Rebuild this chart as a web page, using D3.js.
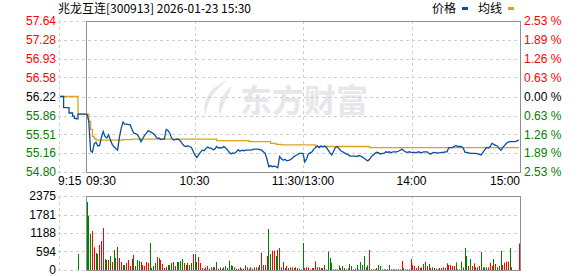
<!DOCTYPE html>
<html>
<head>
<meta charset="utf-8">
<script src="https://cdn.jsdelivr.net/npm/d3@7"></script>
<style>
body { margin: 0; background: #fff; }
svg { display: block; }
text { font-family: "Liberation Sans", Arial, sans-serif; font-size: 12px; }
</style>
</head>
<body>
<svg></svg>
<script>
var title = "兆龙互连[300913] 2026-01-23 15:30";
var preClose = 56.22;

var priceTicks = [57.64, 57.28, 56.93, 56.58, 56.22, 55.86, 55.51, 55.16, 54.80];
var pctTicks = ["2.53%", "1.89%", "1.26%", "0.63%", "0.00%", "0.63%", "1.26%", "1.89%", "2.53%"];
var volTicks = [2375, 1781, 1188, 594, 0];
var timeLabels = ["9:15", "09:30", "10:30", "11:30/13:00", "14:00", "15:00"];
var timeMinutes = [-15, 0, 60, 120, 180, 240];
var gridMinutes = [-15, 60, 120, 180];

// call auction 9:15 - 9:25, then flat to 9:30
var preMinutes = [-15, -14, -13, -12, -11, -10, -9, -8, -7, -6, -5, 0];
var prePrices = [56.22, 56.22, 56.01, 56.01, 56.01, 55.91, 55.91, 55.85, 55.81, 55.80, 55.89, 55.89];
var preAvgMinutes = [-15, -5, 0];
var preAvg = [56.22, 55.89, 55.89];
var preVolMinute = -5;
var preVolume = 513;

// one value per minute, 09:30 .. 11:30 (0-120), 13:01 .. 15:00 (121-240)
var prices = [
  55.89, 55.75, 55.20, 55.17, 55.33, 55.36, 55.29, 55.30, 55.45, 55.56,
  55.47, 55.44, 55.50, 55.40, 55.32, 55.27, 55.24, 55.21, 55.45, 55.62,
  55.74, 55.70, 55.70, 55.69, 55.69, 55.60, 55.53, 55.52, 55.50, 55.45,
  55.37, 55.43, 55.49, 55.53, 55.58, 55.56, 55.54, 55.52, 55.48, 55.43,
  55.44, 55.41, 55.42, 55.42, 55.60, 55.58, 55.53, 55.44, 55.40, 55.41,
  55.42, 55.41, 55.38, 55.33, 55.29, 55.28, 55.29, 55.28, 55.26, 55.19,
  55.12, 55.07, 55.12, 55.17, 55.21, 55.20, 55.24, 55.27, 55.25, 55.25,
  55.22, 55.23, 55.28, 55.25, 55.26, 55.25, 55.28, 55.25, 55.22, 55.17,
  55.14, 55.16, 55.15, 55.18, 55.22, 55.19, 55.21, 55.20, 55.21, 55.21,
  55.21, 55.21, 55.22, 55.23, 55.23, 55.23, 55.22, 55.21, 55.18, 55.15,
  55.04, 54.90, 54.92, 54.90, 54.91, 54.90, 54.88, 55.09, 55.05, 55.02,
  55.04, 55.01, 55.02, 55.03, 55.06, 55.09, 55.11, 55.13, 55.15, 55.15,
  55.15,
  54.99, 55.05, 55.14, 55.16, 55.18, 55.23, 55.26, 55.29, 55.26,
  55.29, 55.27, 55.29, 55.26, 55.21, 55.16, 55.12, 55.19, 55.26, 55.28,
  55.24, 55.20, 55.18, 55.16, 55.14, 55.13, 55.10, 55.10, 55.10, 55.10,
  55.09, 55.11, 55.10, 55.08, 55.06, 55.03, 55.01, 55.04, 55.09, 55.12,
  55.15, 55.17, 55.16, 55.14, 55.15, 55.15, 55.18, 55.17, 55.18, 55.16,
  55.18, 55.18, 55.18, 55.19, 55.21, 55.23, 55.20, 55.18, 55.17, 55.18,
  55.17, 55.17, 55.17, 55.16, 55.18, 55.17, 55.16, 55.18, 55.18, 55.18,
  55.15, 55.14, 55.16, 55.17, 55.16, 55.16, 55.16, 55.17, 55.17, 55.18,
  55.18, 55.26, 55.26, 55.26, 55.28, 55.30, 55.28, 55.28, 55.28, 55.25,
  55.17, 55.17, 55.16, 55.15, 55.15, 55.15, 55.15, 55.14, 55.13, 55.12,
  55.17, 55.22, 55.26, 55.25, 55.28, 55.34, 55.32, 55.30, 55.29, 55.24,
  55.21, 55.26, 55.30, 55.34, 55.36, 55.37, 55.37, 55.37, 55.37, 55.39, 55.40
];

// average price line: minute where it changes, and the new value
var avgMinutes = [0, 1, 2, 3, 4, 5, 20, 25, 72, 90, 102, 105, 108, 127, 157, 240];
var avgPrices = [55.89, 55.75, 55.60, 55.47, 55.43, 55.40, 55.41, 55.42, 55.39, 55.37, 55.34, 55.32, 55.31, 55.28, 55.26, 55.26];

var volumes = [
  2183, 1733, 1156, 1252, 728, 546, 513, 802, 931, 1348,
  353, 321, 321, 449, 257, 642, 385, 738, 385, 257,
  160, 160, 225, 321, 128, 353, 481, 128, 321, 289,
  257, 160, 128, 257, 225, 867, 64, 128, 225, 417,
  385, 321, 193, 64, 96, 160, 160, 225, 257, 128,
  257, 257, 289, 353, 225, 160, 225, 160, 225, 513,
  513, 257, 417, 225, 64, 32, 86, 128, 43, 86,
  96, 86, 256, 43, 86, 43, 86, 128, 64, 300,
  150, 128, 86, 43, 43, 86, 43, 43, 150, 86,
  43, 86, 43, 86, 86, 86, 160, 556, 160, 160,
  449, 1316, 513, 620, 620, 449, 642, 706, 86, 256,
  64, 128, 64, 86, 86, 64, 86, 64, 43, 21,
  866, 64, 86, 86, 21, 64, 64, 278, 86, 86,
  64, 64, 160, 21, 588, 385, 235, 21, 21, 21,
  150, 64, 128, 64, 21, 53, 193, 128, 21, 43,
  160, 21, 256, 160, 449, 86, 150, 642, 21, 21,
  21, 64, 160, 128, 21, 21, 21, 21, 160, 21,
  21, 21, 21, 21, 21, 288, 64, 21, 21, 21,
  352, 160, 128, 64, 128, 64, 86, 193, 267, 128,
  193, 64, 86, 64, 43, 21, 64, 64, 86, 64,
  214, 160, 160, 128, 128, 245, 21, 21, 267, 86,
  706, 449, 128, 352, 128, 214, 86, 86, 128, 577,
  86, 86, 86, 86, 235, 128, 352, 193, 86, 128,
  620, 160, 235, 267, 267, 706, 86, 0, 0, 0, 850
];

// 1 = price up in that minute (red), 0 = down (green)
var volUp = [
  0,0,0,1,1,0,0,1,1,1,  0,0,1,0,1,0,0,1,1,1,  0,0,1,1,1,0,1,0,0,0,
  1,1,1,1,1,0,0,0,0,1,  0,1,1,1,1,0,0,0,1,1,  0,0,0,0,1,1,0,1,0,1,
  0,0,1,1,1,0,1,1,1,0,  1,1,0,0,1,0,0,0,0,0,  0,0,1,0,1,1,0,1,0,1,
  1,1,1,0,1,0,0,1,1,0,  1,0,0,1,1,0,0,1,1,0,  0,1,0,1,0,1,1,0,0,1,
  0,1,1,1,0,1,1,1,1,0,  1,1,0,0,0,0,0,1,1,1,  0,1,0,0,0,1,0,0,1,0,
  0,1,0,0,0,1,0,1,1,1,  0,1,0,0,1,1,1,1,0,1,  1,1,1,1,1,1,0,0,0,0,
  1,1,1,1,1,0,1,0,1,1,  0,1,0,1,1,0,1,1,1,1,  1,1,1,1,1,0,0,1,0,1,
  0,0,1,0,1,1,0,1,1,0,  1,0,0,1,1,1,0,1,0,1,  0,1,1,1,1,0,0,1,1,1,1
];

var width = 578, height = 276;
var left = 86, right = 520;
var priceTop = 21, priceBottom = 172;
var volTop = 196, volBottom = 270;
var gridLeft = 58;

var blue = "#0b4fa0", gold = "#dda21c";
var red = "#ff0000", green = "#008000";
var gridColor = "#cfcfcf", borderColor = "#8f8f8f";

var svg = d3.select("svg")
    .attr("width", width)
    .attr("height", height);

svg.append("rect")
    .attr("width", width)
    .attr("height", height)
    .attr("fill", "white");

var xGrid = d3.scaleLinear().domain([0, 240]).range([left, right]);
var xData = d3.scaleLinear().domain([0, 240]).range([left + 1, right - 1]);
var yPrice = d3.scaleLinear().domain([54.80, 57.64]).range([priceBottom, priceTop]);
var yVol = d3.scaleLinear().domain([0, 2375]).range([volBottom, volTop]);

// watermark
var wm = svg.append("g").attr("fill", "#e7e7eb");
wm.append("path")
    .attr("d", "M228,80 C212,86 200,100 206,116 C206,103 214,90 228,80 Z M232,86 C222,94 216,104 220,116 C222,106 228,96 232,86 Z");
wm.append("text")
    .attr("x", 240)
    .attr("y", 112)
    .style("font-family", "'Noto Sans CJK SC'")
    .style("font-size", "32px")
    .style("font-weight", "bold")
    .text("东方财富");

function crisp(v) { return Math.round(v) + 0.5; }

// price grid
svg.append("g")
    .selectAll("line")
    .data(priceTicks)
    .join("line")
    .attr("x1", gridLeft)
    .attr("x2", right)
    .attr("y1", function(d) { return crisp(yPrice(d)); })
    .attr("y2", function(d) { return crisp(yPrice(d)); })
    .attr("stroke", gridColor)
    .attr("stroke-dasharray", "3,3");

svg.append("g")
    .selectAll("line")
    .data(gridMinutes)
    .join("line")
    .attr("x1", function(d) { return crisp(xGrid(d)); })
    .attr("x2", function(d) { return crisp(xGrid(d)); })
    .attr("y1", priceTop)
    .attr("y2", priceBottom)
    .attr("stroke", gridColor)
    .attr("stroke-dasharray", "3,3");

// volume grid
svg.append("g")
    .selectAll("line")
    .data(volTicks)
    .join("line")
    .attr("x1", gridLeft)
    .attr("x2", right)
    .attr("y1", function(d) { return crisp(yVol(d)); })
    .attr("y2", function(d) { return crisp(yVol(d)); })
    .attr("stroke", gridColor)
    .attr("stroke-dasharray", "3,3");

svg.append("g")
    .selectAll("line")
    .data(gridMinutes)
    .join("line")
    .attr("x1", function(d) { return crisp(xGrid(d)); })
    .attr("x2", function(d) { return crisp(xGrid(d)); })
    .attr("y1", volTop)
    .attr("y2", volBottom)
    .attr("stroke", gridColor)
    .attr("stroke-dasharray", "3,3");

// frames
svg.append("rect")
    .attr("x", left + 0.5).attr("y", priceTop + 0.5)
    .attr("width", right - left).attr("height", priceBottom - priceTop)
    .attr("fill", "none").attr("stroke", borderColor);

svg.append("rect")
    .attr("x", left + 0.5).attr("y", volTop + 0.5)
    .attr("width", right - left).attr("height", volBottom - volTop)
    .attr("fill", "none").attr("stroke", borderColor);

// lines
var priceLine = d3.line()
    .x(function(d, i) { return xData(i); })
    .y(function(d) { return yPrice(d); });

var preLine = d3.line()
    .x(function(d) { return xData(d[0]); })
    .y(function(d) { return yPrice(d[1]); })
    .curve(d3.curveStepAfter);

var avgLine = d3.line()
    .x(function(d) { return xData(d[0]); })
    .y(function(d) { return yPrice(d[1]); })
    .curve(d3.curveStepAfter);

svg.append("path")
    .attr("d", preLine(d3.zip(preAvgMinutes, preAvg)))
    .attr("fill", "none").attr("stroke", gold).attr("stroke-width", 1.3);

svg.append("path")
    .attr("d", avgLine(d3.zip(avgMinutes, avgPrices)))
    .attr("fill", "none").attr("stroke", gold).attr("stroke-width", 1.3);

svg.append("path")
    .attr("d", preLine(d3.zip(preMinutes, prePrices)))
    .attr("fill", "none").attr("stroke", blue).attr("stroke-width", 1.3);

svg.append("path")
    .attr("d", priceLine(prices))
    .attr("fill", "none").attr("stroke", blue).attr("stroke-width", 1.3);

// volume bars
svg.append("g")
    .selectAll("rect")
    .data(volumes)
    .join("rect")
    .attr("x", function(d, i) { return Math.floor(xData(i)); })
    .attr("width", 1)
    .attr("y", function(d) { return yVol(d); })
    .attr("height", function(d) { return volBottom - yVol(d); })
    .attr("fill", function(d, i) { return volUp[i] ? red : green; });

svg.append("rect")
    .attr("x", Math.floor(xData(preVolMinute)))
    .attr("width", 1)
    .attr("y", yVol(preVolume))
    .attr("height", volBottom - yVol(preVolume))
    .attr("fill", green);

// axes (labels only)
function tickColor(d) {
    if (Math.abs(d - preClose) < 0.001) return "#000";
    return d > preClose ? red : green;
}

var leftAxis = svg.append("g")
    .attr("transform", "translate(56,0)")
    .call(d3.axisLeft(yPrice).tickValues(priceTicks).tickSize(0).tickPadding(0)
        .tickFormat(d3.format(".2f")));
leftAxis.select(".domain").remove();
leftAxis.selectAll("text")
    .style("font-size", "12px")
    .style("font-family", "'Liberation Sans', Arial, sans-serif")
    .attr("fill", tickColor);

var rightAxis = svg.append("g")
    .attr("transform", "translate(524,0)")
    .call(d3.axisRight(yPrice).tickValues(priceTicks).tickSize(0).tickPadding(0)
        .tickFormat(function(d, i) { return pctTicks[i].replace("%", " %"); }));
rightAxis.select(".domain").remove();
rightAxis.selectAll("text")
    .style("font-size", "12px")
    .style("font-family", "'Liberation Sans', Arial, sans-serif")
    .attr("fill", tickColor);

var volAxis = svg.append("g")
    .attr("transform", "translate(56,0)")
    .call(d3.axisLeft(yVol).tickValues(volTicks).tickSize(0).tickPadding(0)
        .tickFormat(d3.format("d")));
volAxis.select(".domain").remove();
volAxis.selectAll("text")
    .style("font-size", "12px")
    .style("font-family", "'Liberation Sans', Arial, sans-serif")
    .attr("fill", "#000");

// time labels
svg.append("g")
    .selectAll("text")
    .data(timeLabels)
    .join("text")
    .attr("x", function(d, i) {
        if (i === 0) return gridLeft;
        if (i === 1) return left;
        return xGrid(timeMinutes[i]);
    })
    .attr("y", 185)
    .attr("text-anchor", function(d, i) {
        if (i < 2) return "start";
        if (i === timeLabels.length - 1) return "end";
        return "middle";
    })
    .attr("fill", "#000")
    .text(function(d) { return d; });

// title and legend
svg.append("text")
    .attr("x", 58)
    .attr("y", 13)
    .style("font-family", "'Noto Sans CJK SC', sans-serif")
    .attr("fill", "#000")
    .text(title);

var legend = svg.append("g");
legend.append("text").attr("x", 432).attr("y", 13)
    .style("font-family", "'Noto Sans CJK SC', sans-serif").text("价格");
legend.append("rect").attr("x", 462).attr("y", 7).attr("width", 6).attr("height", 3).attr("fill", blue);
legend.append("text").attr("x", 478).attr("y", 13)
    .style("font-family", "'Noto Sans CJK SC', sans-serif").text("均线");
legend.append("rect").attr("x", 508).attr("y", 7).attr("width", 6).attr("height", 3).attr("fill", gold);
</script>
</body>
</html>
